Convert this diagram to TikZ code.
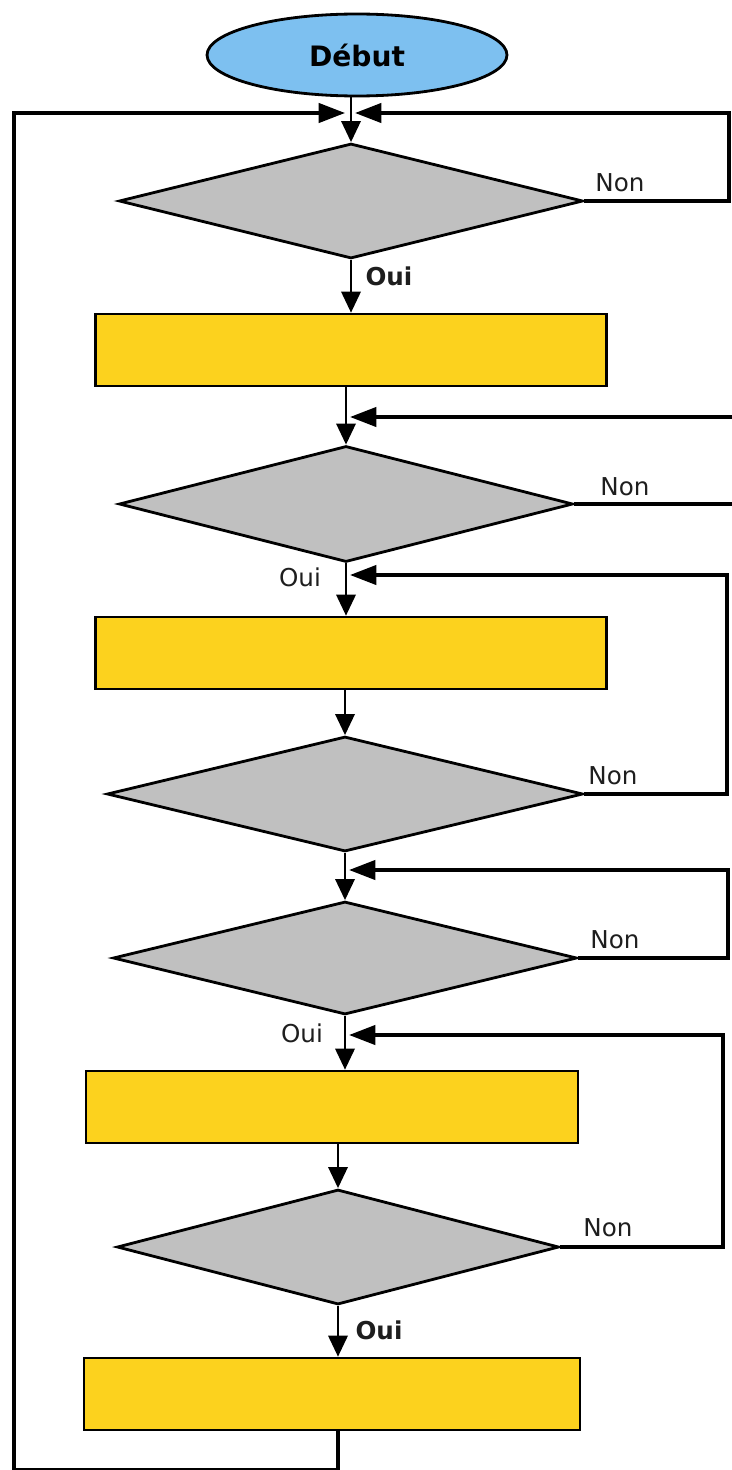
\documentclass[tikz,border=0pt]{standalone}
\usepackage{fontspec}
\setmainfont{DejaVu Sans}
\usetikzlibrary{shapes.geometric,arrows.meta}
\definecolor{debutblue}{RGB}{125,192,240}
\definecolor{boxyellow}{RGB}{252,210,30}
\definecolor{diagray}{RGB}{192,192,192}
\definecolor{txt}{RGB}{30,30,30}
\begin{document}
\begin{tikzpicture}[x=0.02cm,y=-0.02cm,
  tip/.style={-{Triangle[length=12pt,width=11pt]}},
  htip/.style={-{Triangle[length=15pt,width=11pt]}},
  dec/.style={diamond, draw, fill=diagray, line width=1.6pt, inner sep=0pt},
  act/.style={rectangle, draw, fill=boxyellow, line width=1.5pt, inner sep=0pt, minimum height=1.44cm},
  flow/.style={line width=1.4pt},
  loopline/.style={line width=1.9pt},
  lbl/.style={inner sep=0pt, text=txt, font=\fontsize{14}{16}\selectfont},
  lblb/.style={inner sep=0pt, text=txt, font=\fontsize{14}{16}\selectfont\bfseries}]
\useasboundingbox[fill=white] (0,0) rectangle (731,1470);

% nodes
\node[ellipse, draw, fill=debutblue, line width=1.6pt, minimum width=6cm, minimum height=1.64cm, inner sep=0pt, font=\fontsize{16}{18}\selectfont\bfseries] (debut) at (357,55) {Début};
\node[dec, minimum width=9.28cm, minimum height=2.3cm] (d1) at (351,201) {};
\node[act, minimum width=10.22cm] (b1) at (351,350) {};
\node[dec, minimum width=9.08cm, minimum height=2.32cm] (d2) at (346,504) {};
\node[act, minimum width=10.22cm] (b2) at (351,653) {};
\node[dec, minimum width=9.52cm, minimum height=2.3cm] (d3) at (345,794) {};
\node[dec, minimum width=9.28cm, minimum height=2.26cm] (d4) at (345,958) {};
\node[act, minimum width=9.84cm] (b3) at (332,1107) {};
\node[dec, minimum width=8.84cm, minimum height=2.3cm] (d5) at (338,1247) {};
\node[act, minimum width=9.92cm] (b4) at (332,1394) {};

% junctions and corners
\coordinate (j1) at (351,113);
\coordinate (j2) at (346,417);
\coordinate (j3) at (346,575);
\coordinate (j4) at (345,870);
\coordinate (j5) at (345,1035);
\coordinate (r1) at (729,113);
\coordinate (r2) at (760,417);
\coordinate (r3) at (727,575);
\coordinate (r4) at (728,870);
\coordinate (r5) at (723,1035);
\coordinate (lb) at (14,1470);

% main flow
\draw[flow,tip] (d1.north |- debut.south) -- (d1.north);
\draw[flow,tip] (d1.south) -- (d1.south |- b1.north);
\draw[flow,tip] (b1.south -| d2.north) -- (d2.north);
\draw[flow,tip] (d2.south) -- (d2.south |- b2.north);
\draw[flow,tip] (b2.south -| d3.north) -- (d3.north);
\draw[flow,tip] (d3.south) -- (d4.north);
\draw[flow,tip] (d4.south) -- (d4.south |- b3.north);
\draw[flow,tip] (b3.south -| d5.north) -- (d5.north);
\draw[flow,tip] (d5.south) -- (d5.south |- b4.north);

% loops
\draw[loopline,htip,shorten >=3.4pt] (b4.south -| d5.south) |- (lb) |- (j1);
\draw[loopline,htip,shorten >=2.3pt] (d1.east) -| (r1) -- (j1);
\draw[loopline,htip,shorten >=2.3pt] (d2.east) -| (r2) -- (j2);
\draw[loopline,htip,shorten >=2.3pt] (d3.east) -| (r3) -- (j3);
\draw[loopline,htip,shorten >=2.3pt] (d4.east) -| (r4) -- (j4);
\draw[loopline,htip,shorten >=2.3pt] (d5.east) -| (r5) -- (j5);

% labels
\node[lbl] (n1) at (620,183) {Non};
\node[lbl] (n2) at (625,487) {Non};
\node[lbl] (n3) at (613,776) {Non};
\node[lbl] (n4) at (615,940) {Non};
\node[lbl] (n5) at (608,1228) {Non};
\node[lblb] (o1) at (389,276) {Oui};
\node[lbl] (o2) at (300,577) {Oui};
\node[lbl] (o3) at (302,1033) {Oui};
\node[lblb] (o4) at (379,1330) {Oui};
\end{tikzpicture}
\end{document}
